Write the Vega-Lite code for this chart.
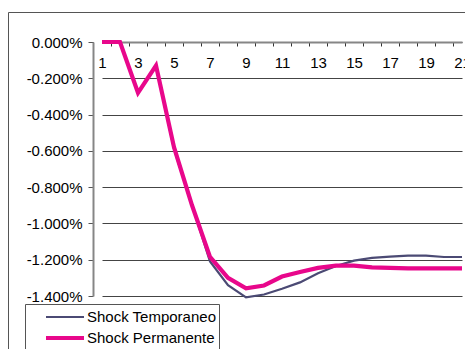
{
  "$schema": "https://vega.github.io/schema/vega-lite/v6.json",
  "width": 372,
  "height": 254,
  "autosize": {"type": "none"},
  "padding": {"left": 93, "top": 42, "right": 0, "bottom": 53},
  "background": "white",
  "config": {
    "view": {"stroke": null},
    "font": "Liberation Sans"
  },
  "data": {
    "values": [
      {"period": 1, "series": "Shock Temporaneo", "value": 0},
      {"period": 2, "series": "Shock Temporaneo", "value": 0},
      {"period": 3, "series": "Shock Temporaneo", "value": -0.28},
      {"period": 4, "series": "Shock Temporaneo", "value": -0.13},
      {"period": 5, "series": "Shock Temporaneo", "value": -0.59},
      {"period": 6, "series": "Shock Temporaneo", "value": -0.9},
      {"period": 7, "series": "Shock Temporaneo", "value": -1.21},
      {"period": 8, "series": "Shock Temporaneo", "value": -1.34},
      {"period": 9, "series": "Shock Temporaneo", "value": -1.408},
      {"period": 10, "series": "Shock Temporaneo", "value": -1.392},
      {"period": 11, "series": "Shock Temporaneo", "value": -1.36},
      {"period": 12, "series": "Shock Temporaneo", "value": -1.325},
      {"period": 13, "series": "Shock Temporaneo", "value": -1.275},
      {"period": 14, "series": "Shock Temporaneo", "value": -1.235},
      {"period": 15, "series": "Shock Temporaneo", "value": -1.205},
      {"period": 16, "series": "Shock Temporaneo", "value": -1.19},
      {"period": 17, "series": "Shock Temporaneo", "value": -1.183},
      {"period": 18, "series": "Shock Temporaneo", "value": -1.178},
      {"period": 19, "series": "Shock Temporaneo", "value": -1.178},
      {"period": 20, "series": "Shock Temporaneo", "value": -1.185},
      {"period": 21, "series": "Shock Temporaneo", "value": -1.185},
      {"period": 1, "series": "Shock Permanente", "value": 0},
      {"period": 2, "series": "Shock Permanente", "value": 0},
      {"period": 3, "series": "Shock Permanente", "value": -0.28},
      {"period": 4, "series": "Shock Permanente", "value": -0.13},
      {"period": 5, "series": "Shock Permanente", "value": -0.58},
      {"period": 6, "series": "Shock Permanente", "value": -0.9},
      {"period": 7, "series": "Shock Permanente", "value": -1.185},
      {"period": 8, "series": "Shock Permanente", "value": -1.3},
      {"period": 9, "series": "Shock Permanente", "value": -1.358},
      {"period": 10, "series": "Shock Permanente", "value": -1.342},
      {"period": 11, "series": "Shock Permanente", "value": -1.293},
      {"period": 12, "series": "Shock Permanente", "value": -1.268},
      {"period": 13, "series": "Shock Permanente", "value": -1.245},
      {"period": 14, "series": "Shock Permanente", "value": -1.233},
      {"period": 15, "series": "Shock Permanente", "value": -1.233},
      {"period": 16, "series": "Shock Permanente", "value": -1.242},
      {"period": 17, "series": "Shock Permanente", "value": -1.245},
      {"period": 18, "series": "Shock Permanente", "value": -1.248},
      {"period": 19, "series": "Shock Permanente", "value": -1.248},
      {"period": 20, "series": "Shock Permanente", "value": -1.248},
      {"period": 21, "series": "Shock Permanente", "value": -1.248}
    ]
  },
  "encoding": {
    "x": {
      "field": "period",
      "type": "ordinal",
      "scale": {"type": "point", "padding": 0, "range": [9, 369]},
      "axis": {
        "orient": "bottom",
        "offset": -254,
        "title": null,
        "labelAngle": 0,
        "labelExpr": "datum.value % 2 == 1 ? datum.label : ''",
        "labelFontSize": 15,
        "labelColor": "black",
        "labelPadding": 9,
        "tickOffset": -9,
        "labelOffset": 9,
        "tickSize": 4,
        "tickColor": "#333",
        "tickWidth": 1,
        "domainColor": "#868686",
        "domainWidth": 2,
        "grid": false
      }
    },
    "y": {
      "field": "value",
      "type": "quantitative",
      "scale": {"domain": [-1.4, 0], "nice": false, "zero": false},
      "axis": {
        "title": null,
        "values": [0, -0.2, -0.4, -0.6, -0.8, -1.0, -1.2, -1.4],
        "labelExpr": "replace(format(datum.value, '.3f'), '\u2212', '-') + '%'",
        "labelFontSize": 15,
        "labelColor": "black",
        "labelPadding": 6,
        "tickSize": 5,
        "tickColor": "#555",
        "domainColor": "#868686",
        "domainWidth": 2,
        "grid": true,
        "gridColor": "#444",
        "gridWidth": 1,
        "gridOpacity": 1
      }
    },
    "color": {
      "field": "series",
      "type": "nominal",
      "scale": {"domain": ["Shock Temporaneo", "Shock Permanente"], "range": ["#4b4a74", "#e8078b"]},
      "legend": {
        "title": "\u00a0",
        "titleOrient": "left",
        "titleFontSize": 10,
        "titlePadding": 26,
        "orient": "none",
        "legendX": -68,
        "legendY": 262,
        "symbolType": "M-2,0H2",
        "symbolSize": 361,
        "labelFontSize": 15,
        "labelColor": "black",
        "labelOffset": 10,
        "labelExpr": "datum.label + '\u00a0\u00a0\u00a0'",
        "rowPadding": 1,
        "padding": 2,
        "fillColor": "white",
        "strokeColor": "#555"
      }
    },
    "strokeWidth": {
      "field": "series",
      "type": "nominal",
      "scale": {"domain": ["Shock Temporaneo", "Shock Permanente"], "range": [2.2, 4.2]},
      "legend": null
    }
  },
  "layer": [
    {
      "transform": [{"filter": "datum.series == 'Shock Temporaneo'"}],
      "mark": {"type": "line", "strokeJoin": "miter"}
    },
    {
      "transform": [{"filter": "datum.series == 'Shock Permanente'"}],
      "mark": {"type": "line", "strokeJoin": "miter"}
    },
    {
      "transform": [{"filter": "datum.period == 1 && datum.series == 'Shock Permanente'"}],
      "mark": {"type": "point", "opacity": 0},
      "encoding": {
        "fill": {
          "datum": 0,
          "type": "quantitative",
          "scale": {"domain": [0, 1], "range": ["rgba(255,255,255,0)", "rgba(255,255,255,0)"]},
          "legend": {
            "title": null,
            "orient": "none",
            "direction": "horizontal",
            "legendX": -85,
            "legendY": -30,
            "gradientLength": 600,
            "gradientThickness": 400,
            "gradientStrokeWidth": 0,
            "labelExpr": "''",
            "padding": 0,
            "strokeColor": "#555"
          }
        }
      }
    }
  ]
}
